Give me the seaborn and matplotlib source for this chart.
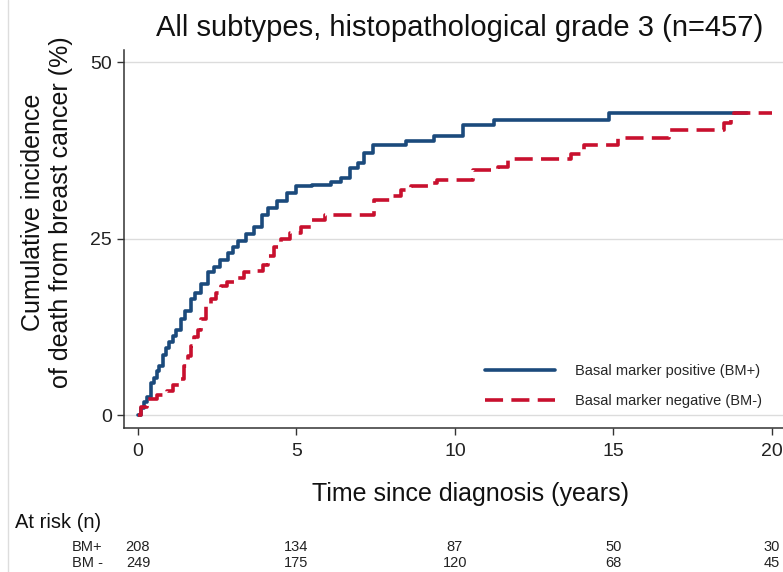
import pandas as pd
import seaborn as sns
import matplotlib.pyplot as plt
from matplotlib.lines import Line2D
from matplotlib.transforms import blended_transform_factory

# step curves (years, cumulative incidence %)
bm_pos_t = [0, 0.1, 0.2, 0.3, 0.41, 0.5, 0.6, 0.67, 0.8, 0.9, 0.99, 1.1, 1.2, 1.36, 1.5,
            1.67, 1.8, 2.0, 2.2, 2.4, 2.6, 2.83, 3.0, 3.15, 3.4, 3.67, 3.9, 4.1, 4.4, 4.7,
            5.0, 5.5, 6.1, 6.4, 6.7, 6.93, 7.13, 7.4, 8.45, 9.35, 10.24, 11.24, 14.87, 19.2]
bm_pos_v = [0, 1.0, 1.8, 2.5, 4.6, 5.2, 6.3, 7.0, 8.5, 9.5, 10.3, 11.2, 12.0, 13.6, 14.8,
            16.4, 17.3, 18.6, 20.2, 21.0, 22.0, 23.0, 23.8, 24.6, 25.6, 26.7, 28.3, 29.3, 30.3, 31.5,
            32.4, 32.6, 33.0, 33.6, 35.0, 35.7, 37.1, 38.3, 38.8, 39.5, 41.1, 41.8, 42.75, 42.75]

bm_neg_t = [0, 0.1, 0.3, 0.6, 0.93, 1.1, 1.3, 1.46, 1.57, 1.67, 1.78, 1.88, 2.0, 2.14, 2.3,
            2.45, 2.62, 2.8, 3.04, 3.35, 3.77, 3.95, 4.09, 4.3, 4.5, 4.8, 5.14, 5.46, 5.9,
            7.46, 7.98, 8.3, 8.6, 9.14, 9.45, 10.56, 11.35, 11.66, 13.66, 14.08, 15.13, 16.76,
            18.5, 18.7, 18.8, 20.0]
bm_neg_v = [0, 1.2, 2.3, 2.8, 3.4, 4.2, 5.1, 7.0, 8.3, 9.8, 11.0, 12.1, 13.6, 15.4, 16.4,
            17.3, 18.3, 18.9, 19.4, 20.2, 20.4, 21.3, 22.5, 23.8, 24.9, 25.8, 26.7, 27.6, 28.3,
            30.5, 31.0, 31.9, 32.5, 32.9, 33.3, 34.7, 35.1, 36.2, 36.9, 38.3, 39.2, 40.4,
            41.3, 42.3, 42.75, 42.75]

labels = ["Basal marker positive (BM+)", "Basal marker negative (BM-)"]
risk_years = [0, 5, 10, 15, 20]
risk_pos = [208, 134, 87, 50, 30]
risk_neg = [249, 175, 120, 68, 45]

df = pd.concat([
    pd.DataFrame({"t": bm_pos_t, "v": bm_pos_v, "group": labels[0]}),
    pd.DataFrame({"t": bm_neg_t, "v": bm_neg_v, "group": labels[1]}),
])

sns.set_style("ticks")
plt.rcParams["font.family"] = ["Liberation Sans", "DejaVu Sans"]

W, H = 783, 572
fig = plt.figure(figsize=(W / 100, H / 100), dpi=100)
ax = fig.add_axes([124 / W, 1 - 428 / H, (W - 124) / W, (428 - 50) / H])

sns.lineplot(data=df, x="t", y="v", hue="group", style="group",
             palette=["#1b4a7c", "#c8102e"], dashes=["", (5, 2.3)],
             estimator=None, drawstyle="steps-post", linewidth=2.6,
             legend=False, ax=ax)

ax.set_xlim(-0.44, 20.35)
ax.set_ylim(-1.84, 51.7)
ax.set_xticks(risk_years)
ax.set_yticks([0, 25, 50])
ax.yaxis.grid(True, color="#dcdcdc", linewidth=1)
ax.set_axisbelow(True)
sns.despine(ax=ax)
for s in ["left", "bottom"]:
    ax.spines[s].set_color("#333333")
    ax.spines[s].set_linewidth(1.1)
ax.tick_params(axis="both", labelsize=14, length=5, width=1, color="#333333", labelcolor="#222222")
ax.tick_params(axis="x", pad=6)
ax.set_xlabel("")
ax.set_ylabel("")

lines = ax.get_lines()[:2]
ax.legend(lines, labels, loc="center left", bbox_to_anchor=(485 / W, 1 - 386 / H),
          bbox_transform=fig.transFigure, frameon=False, fontsize=10.5,
          handlelength=4.8, handletextpad=1.4, labelspacing=1.1,
          borderpad=0, borderaxespad=0)

fig.text(460 / W, 1 - 28 / H, "All subtypes, histopathological grade 3 (n=457)",
         ha="center", va="center", fontsize=21, color="#111111")
fig.text(471 / W, 1 - 494 / H, "Time since diagnosis (years)",
         ha="center", va="center", fontsize=18, color="#111111")
fig.text(47 / W, 1 - 212 / H, "Cumulative incidence\nof death from breast cancer (%)",
         rotation=90, ha="center", va="center", multialignment="center",
         fontsize=18, color="#111111")

# number at risk table
fig.text(15 / W, 1 - 522 / H, "At risk (n)", ha="left", va="center", fontsize=14.5, color="#111111")
fig.text(72 / W, 1 - 547 / H, "BM+", ha="left", va="center", fontsize=10.5, color="#222222")
fig.text(72 / W, 1 - 563 / H, "BM -", ha="left", va="center", fontsize=10.5, color="#222222")
tr = blended_transform_factory(ax.transData, fig.transFigure)
for yr, a, b in zip(risk_years, risk_pos, risk_neg):
    ax.text(yr, 1 - 547 / H, str(a), transform=tr, ha="center", va="center",
            fontsize=10.5, color="#222222", clip_on=False)
    ax.text(yr, 1 - 563 / H, str(b), transform=tr, ha="center", va="center",
            fontsize=10.5, color="#222222", clip_on=False)

fig.add_artist(Line2D([8 / W, 8 / W], [0, 1], color="#dddddd", linewidth=1))

fig.savefig("out.png", dpi=100)
